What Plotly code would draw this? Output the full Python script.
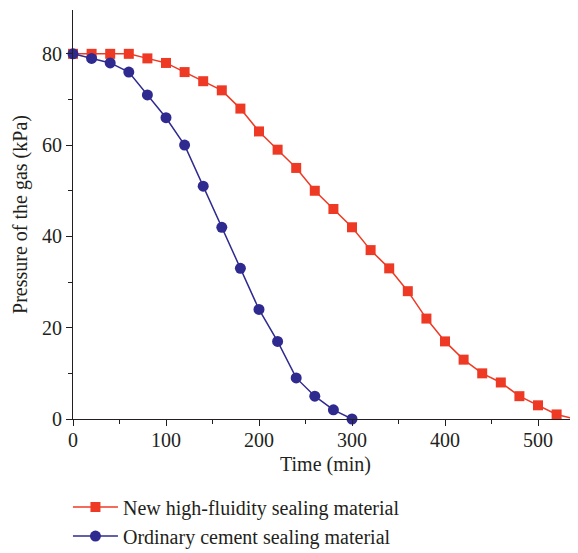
import plotly.graph_objects as go

time_new = [0, 20, 40, 60, 80, 100, 120, 140, 160, 180, 200, 220, 240, 260, 280,
            300, 320, 340, 360, 380, 400, 420, 440, 460, 480, 500, 520, 540]
pressure_new = [80, 80, 80, 80, 79, 78, 76, 74, 72, 68, 63, 59, 55, 50, 46,
                42, 37, 33, 28, 22, 17, 13, 10, 8, 5, 3, 1, 0]
time_ord = [0, 20, 40, 60, 80, 100, 120, 140, 160, 180, 200, 220, 240, 260, 280, 300]
pressure_ord = [80, 79, 78, 76, 71, 66, 60, 51, 42, 33, 24, 17, 9, 5, 2, 0]

name_new = "New high-fluidity sealing material"
name_ord = "Ordinary cement sealing material"

FONT = "Liberation Serif, DejaVu Serif, serif"
RED = "#ee3a24"
BLUE = "#2e2a8f"
INK = "#231f20"

fig = go.Figure()
fig.add_trace(go.Scatter(x=time_new, y=pressure_new, mode="lines+markers", name=name_new,
                         line=dict(color=RED, width=1.5), cliponaxis=False,
                         marker=dict(symbol="square", size=10, color=RED)))
fig.add_trace(go.Scatter(x=time_ord, y=pressure_ord, mode="lines+markers", name=name_ord,
                         line=dict(color=BLUE, width=1.5), cliponaxis=False,
                         marker=dict(symbol="circle", size=11, color=BLUE)))

# page body has an 8px margin, so the figure is sized/offset to compensate
fig.update_layout(
    width=570, height=545,
    margin=dict(l=65, r=0, t=2, b=134, autoexpand=False),
    paper_bgcolor="white", plot_bgcolor="white",
    font=dict(family=FONT, size=20, color=INK),
    showlegend=True,
    legend=dict(x=-0.01, xanchor="left", y=-0.1677, yanchor="top",
                font=dict(family=FONT, size=20, color=INK),
                tracegroupgap=0, itemwidth=45, bgcolor="rgba(0,0,0,0)"),
)
fig.update_xaxes(range=[0, 543], showgrid=False, zeroline=False, automargin=False,
                 showline=True, linecolor=INK, linewidth=1.2,
                 ticks="outside", ticklen=6, tickcolor=INK, ticklabelstandoff=-3,
                 tickvals=[0, 100, 200, 300, 400, 500],
                 minor=dict(ticks="outside", ticklen=4, dtick=50, tickcolor=INK, showgrid=False),
                 title=dict(text="Time (min)", font=dict(size=20), standoff=6))
fig.update_yaxes(range=[0, 89.6], showgrid=False, zeroline=False, automargin=False,
                 showline=True, linecolor=INK, linewidth=1.2,
                 ticks="outside", ticklen=6, tickcolor=INK,
                 tickvals=[0, 20, 40, 60, 80],
                 minor=dict(ticks="outside", ticklen=4, dtick=10, tickcolor=INK, showgrid=False),
                 title=dict(text="Pressure of the gas (kPa)", font=dict(size=20), standoff=8))

fig.write_html("out.html")
